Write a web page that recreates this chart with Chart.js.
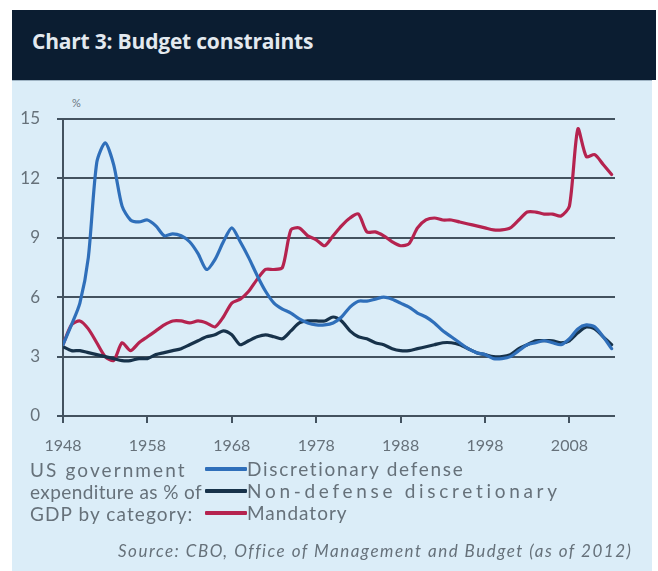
<!DOCTYPE html>
<html>
<head>
<meta charset="utf-8">
<script src="https://cdn.jsdelivr.net/npm/chart.js@4.4.1/dist/chart.umd.min.js"></script>
<style>
  body { margin: 0; background: #ffffff; width: 658px; height: 571px; overflow: hidden; position: relative; font-family: Lato, "Open Sans", sans-serif; }
  #header { position: absolute; left: 12px; top: 10px; width: 644px; height: 70px; background: #0b1d31; }
  #header h1 { margin: 0; position: absolute; left: 20px; top: 17px; font-family: "Open Sans", sans-serif; font-weight: 700; font-size: 21px; letter-spacing: -0.2px; color: #e3e9ef; }
  #panel { position: absolute; left: 12px; top: 80px; width: 640px; height: 491px; background: #dbedf8; border-top: 1px solid #9fb4c4; }
  #chart { position: absolute; left: 0; top: 0; }
  .note { position: absolute; color: #66717a; font-size: 19px; line-height: 22px; white-space: nowrap; }
  .key { position: absolute; color: #66717a; font-size: 19px; line-height: 22px; white-space: nowrap; }
  .swatch { position: absolute; width: 42px; height: 4px; border-radius: 1px; }
  #unit { position: absolute; left: 72px; top: 96px; font-size: 11px; color: #6b7680; }
  #source { position: absolute; left: 118px; top: 540px; font-style: italic; font-size: 17px; line-height: 22px; color: #66717a; letter-spacing: 1.5px; white-space: nowrap; }
</style>
</head>
<body>
<div id="header"><h1>Chart 3: Budget constraints</h1></div>
<div id="panel"></div>
<div id="unit">%</div>
<canvas id="chart" width="658" height="571"></canvas>

<div class="note" style="left:30px;top:459px;letter-spacing:2.1px">US government</div>
<div class="note" style="left:30px;top:481px;letter-spacing:0.4px">expenditure as % of</div>
<div class="note" style="left:30px;top:503px;letter-spacing:1.1px">GDP by category:</div>

<div class="swatch" style="left:205px;top:467px;background:#2f6fba"></div>
<div class="key" style="left:247px;top:458px;letter-spacing:1.7px">Discretionary defense</div>
<div class="swatch" style="left:205px;top:489px;background:#17324a"></div>
<div class="key" style="left:247px;top:480px;letter-spacing:3.7px">Non-defense discretionary</div>
<div class="swatch" style="left:205px;top:511px;background:#b5234f"></div>
<div class="key" style="left:247px;top:502px;letter-spacing:1px">Mandatory</div>

<div id="source">Source: CBO, Office of Management and Budget (as of 2012)</div>

<script>
// fiscal years 1948-2013, spending as % of GDP
const years = [];
for (let y = 1948; y <= 2013; y++) years.push(y);

const defense = [
  3.6, 4.6, 5.7, 8.0, 12.8, 13.8, 12.7, 10.6, 9.9, 9.8,
  9.9, 9.6, 9.1, 9.2, 9.1, 8.8, 8.2, 7.4, 7.9, 8.8,
  9.5, 8.8, 8.0, 7.1, 6.3, 5.7, 5.4, 5.2, 4.9, 4.7,
  4.6, 4.6, 4.7, 5.0, 5.5, 5.8, 5.8, 5.9, 6.0, 5.9,
  5.7, 5.5, 5.2, 5.0, 4.7, 4.3, 4.0, 3.7, 3.4, 3.2,
  3.1, 2.9, 2.9, 3.0, 3.3, 3.6, 3.7, 3.8, 3.7, 3.6,
  3.9, 4.4, 4.6, 4.5, 4.0, 3.4
];

const nonDefense = [
  3.5, 3.3, 3.3, 3.2, 3.1, 3.0, 2.9, 2.8, 2.8, 2.9,
  2.9, 3.1, 3.2, 3.3, 3.4, 3.6, 3.8, 4.0, 4.1, 4.3,
  4.1, 3.6, 3.8, 4.0, 4.1, 4.0, 3.9, 4.3, 4.7, 4.8,
  4.8, 4.8, 5.0, 4.8, 4.3, 4.0, 3.9, 3.7, 3.6, 3.4,
  3.3, 3.3, 3.4, 3.5, 3.6, 3.7, 3.7, 3.6, 3.4, 3.2,
  3.1, 3.0, 3.0, 3.1, 3.4, 3.6, 3.8, 3.8, 3.8, 3.7,
  3.8, 4.2, 4.5, 4.4, 4.0, 3.6
];

const mandatory = [
  3.6, 4.6, 4.8, 4.4, 3.7, 3.0, 2.8, 3.7, 3.3, 3.7,
  4.0, 4.3, 4.6, 4.8, 4.8, 4.7, 4.8, 4.7, 4.5, 5.0,
  5.7, 5.9, 6.3, 6.9, 7.4, 7.4, 7.5, 9.4, 9.5, 9.1,
  8.9, 8.6, 9.1, 9.6, 10.0, 10.2, 9.3, 9.3, 9.1, 8.8,
  8.6, 8.7, 9.5, 9.9, 10.0, 9.9, 9.9, 9.8, 9.7, 9.6,
  9.5, 9.4, 9.4, 9.5, 9.9, 10.3, 10.3, 10.2, 10.2, 10.1,
  10.6, 14.5, 13.1, 13.2, 12.7, 12.2
];

const yearTicks = [1948, 1958, 1968, 1978, 1988, 1998, 2008];
const axisColor = '#43525f';
const labelColor = '#66717a';

function series(values) {
  return values.map((v, i) => ({x: years[i], y: v}));
}

const ctx = document.getElementById('chart');
new Chart(ctx, {
  type: 'line',
  data: {
    datasets: [
      {label: 'Discretionary defense', data: series(defense), borderColor: '#2f6fba'},
      {label: 'Non-defense discretionary', data: series(nonDefense), borderColor: '#17324a'},
      {label: 'Mandatory', data: series(mandatory), borderColor: '#b5234f'}
    ]
  },
  options: {
    responsive: false,
    animation: false,
    layout: {
      padding: {left: 0, top: 119, right: 43, bottom: 115}
    },
    elements: {
      point: {radius: 0},
      line: {borderWidth: 3.2, tension: 0.25, borderCapStyle: 'round', borderJoinStyle: 'round'}
    },
    plugins: {
      legend: {display: false},
      tooltip: {enabled: false}
    },
    scales: {
      x: {
        type: 'linear',
        min: 1948,
        max: 2013.4,
        afterBuildTicks: function(scale) {
          scale.ticks = yearTicks.map(v => ({value: v}));
        },
        afterFit: function(scale) {
          scale.height = 40;
        },
        grid: {
          drawOnChartArea: false,
          drawTicks: true,
          tickLength: 7,
          color: axisColor,
          lineWidth: 2
        },
        border: {display: false},
        ticks: {
          callback: v => String(v),
          color: labelColor,
          padding: 13,
          maxRotation: 0,
          font: {family: 'Lato', size: 16}
        }
      },
      y: {
        min: 0,
        max: 15,
        afterFit: function(scale) {
          scale.width = 63;
        },
        grid: {
          color: axisColor,
          lineWidth: 2,
          tickLength: 6
        },
        border: {display: true, color: axisColor, width: 2},
        ticks: {
          stepSize: 3,
          color: labelColor,
          padding: 17,
          font: {family: 'Lato', size: 17}
        }
      }
    }
  }
});
</script>
</body>
</html>
